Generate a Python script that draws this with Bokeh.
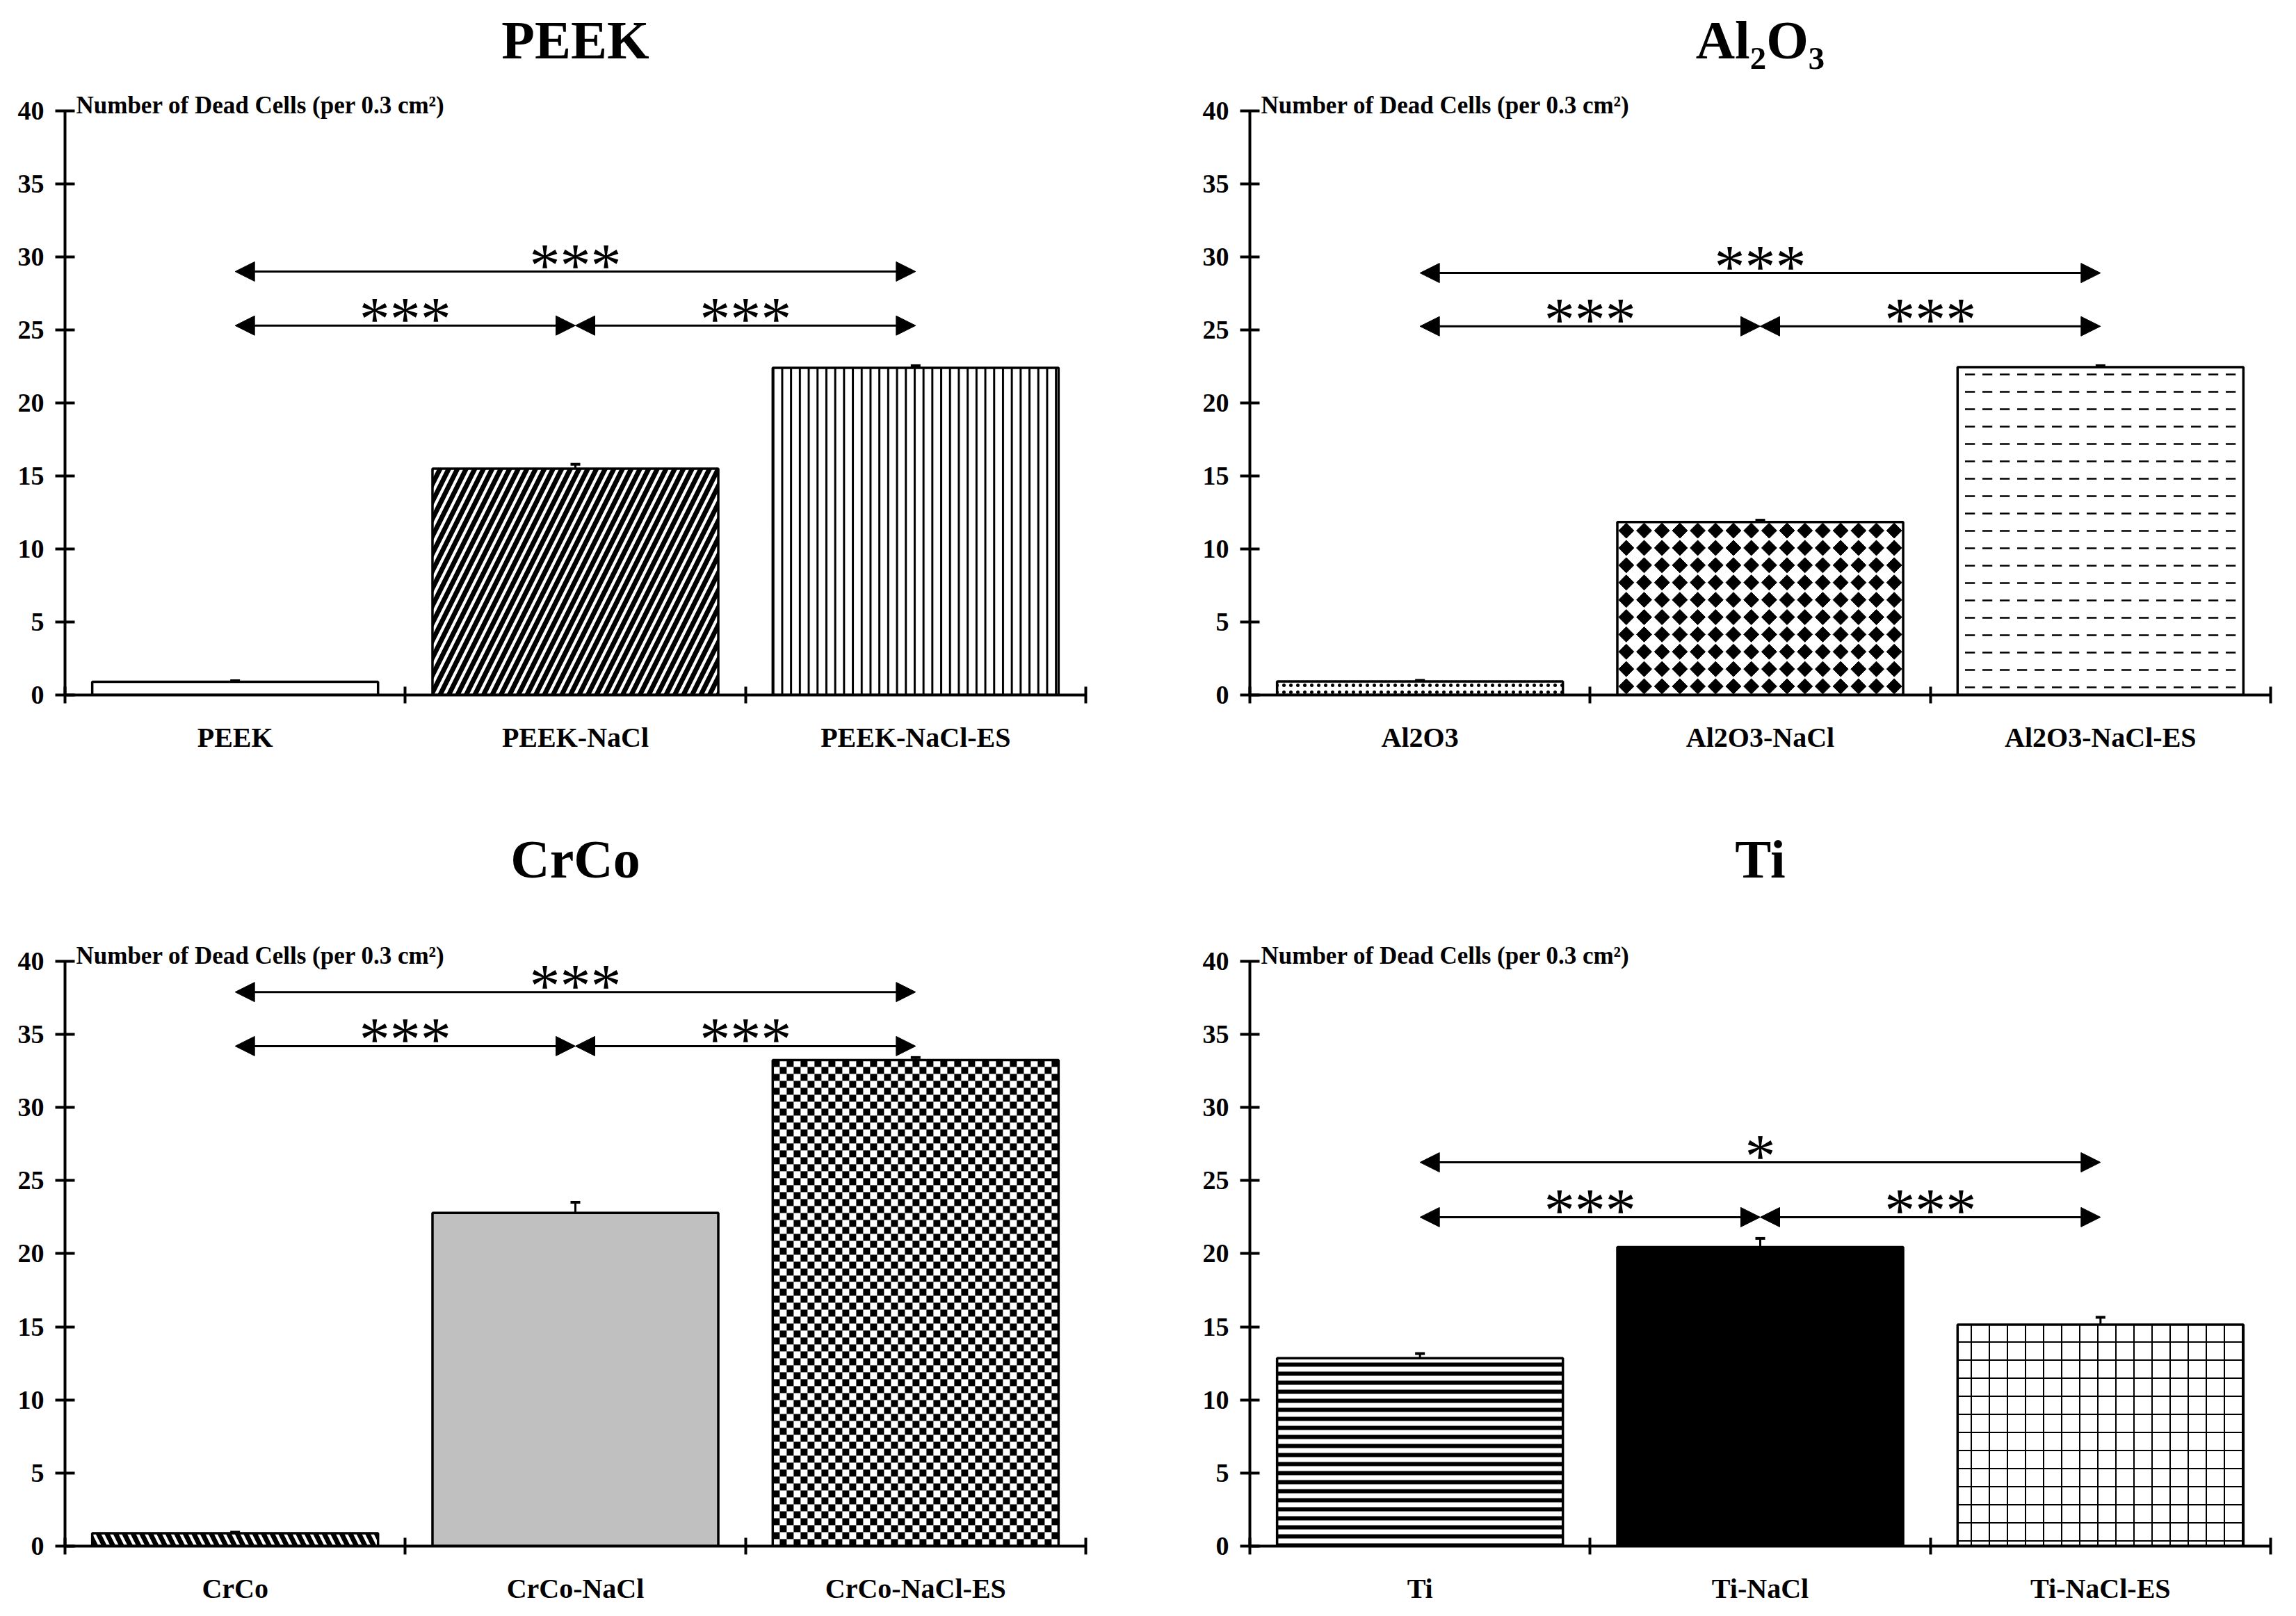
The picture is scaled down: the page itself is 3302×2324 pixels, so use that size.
import numpy as np
from bokeh.plotting import figure
from bokeh.layouts import column, row
from bokeh.models import (ColumnDataSource, Range1d, FixedTicker, Label, Arrow,
                          NormalHead, Whisker, TeeHead)
from bokeh.core.properties import value
from bokeh.embed import file_html
from bokeh.resources import INLINE

# values (number of dead cells per 0.3 cm2, mean and error)
peek_groups = ["PEEK", "PEEK-NaCl", "PEEK-NaCl-ES"]
peek_dead = [0.9, 15.5, 22.4]
peek_err = [0.08, 0.3, 0.15]

al_groups = ["Al2O3", "Al2O3-NaCl", "Al2O3-NaCl-ES"]
al_dead = [0.93, 11.85, 22.45]
al_err = [0.07, 0.12, 0.1]

crco_groups = ["CrCo", "CrCo-NaCl", "CrCo-NaCl-ES"]
crco_dead = [0.88, 22.8, 33.25]
crco_err = [0.07, 0.72, 0.17]

ti_groups = ["Ti", "Ti-NaCl", "Ti-NaCl-ES"]
ti_dead = [12.85, 20.45, 15.15]
ti_err = [0.32, 0.6, 0.5]

# significance arrows: from group, to group, height, stars
peek_sig = [(0, 1, 25.3, "***"), (1, 2, 25.3, "***"), (0, 2, 29.0, "***")]
al_sig = [(0, 1, 25.25, "***"), (1, 2, 25.25, "***"), (0, 2, 28.9, "***")]
crco_sig = [(0, 1, 34.2, "***"), (1, 2, 34.2, "***"), (0, 2, 37.9, "***")]
ti_sig = [(0, 1, 22.5, "***"), (1, 2, 22.5, "***"), (0, 2, 26.25, "*")]

y_ticks = [0, 5, 10, 15, 20, 25, 30, 35, 40]
y_label = "Number of Dead Cells (per 0.3 cm\u00b2)"

SERIF = "Liberation Serif"
BAR_W = 0.84


def panel(title, groups, dead, err, sig, fills, left, right, bottom, y_end, title_y):
    p = figure(width=1651, height=1162, x_range=Range1d(0, 3), y_range=Range1d(0, y_end),
               output_backend="svg", toolbar_location=None,
               min_border_left=left, min_border_right=right,
               min_border_top=10, min_border_bottom=bottom)
    p.xgrid.visible = False
    p.ygrid.visible = False
    p.outline_line_color = None
    p.background_fill_color = "white"
    p.border_fill_color = "white"

    xs = [i + 0.5 for i in range(len(groups))]

    for i, (x, v) in enumerate(zip(xs, dead)):
        st = dict(fills[i])
        kind = st.pop("kind", None)
        if kind == "checker":
            ny = int(round(v * 2.1))
            nx = 41
            cells = np.add.outer(np.arange(ny), np.arange(nx)) % 2
            img = np.kron(cells, np.ones((4, 4)))
            p.image(image=[img], x=x - BAR_W / 2, y=0, dw=BAR_W, dh=v,
                    palette=["#ffffff", "#000000"])
            p.vbar(x=[x], top=[v], width=BAR_W, fill_color=None,
                   line_color="black", line_width=3.5)
        elif kind == "diamond":
            p.vbar(x=[x], top=[v], width=BAR_W, fill_color="white",
                   line_color="black", line_width=3.5)
            cx = x - BAR_W / 2 + (np.arange(16) + 0.5) * BAR_W / 16
            cy = (np.arange(10) + 0.5) * v / 10
            gx, gy = np.meshgrid(cx, cy)
            p.scatter(gx.ravel(), gy.ravel(), marker="square", angle=np.pi / 4, size=15.5,
                      fill_color="black", line_color="black", line_width=1)
        else:
            p.vbar(x=[x], top=[v], width=BAR_W, line_color="black",
                   line_width=3.5, **st)

    src = ColumnDataSource(dict(base=xs, lower=dead,
                                upper=[v + e for v, e in zip(dead, err)]))
    p.add_layout(Whisker(source=src, base="base", lower="lower", upper="upper",
                         line_width=3, lower_head=None,
                         upper_head=TeeHead(size=14, line_width=4)))

    # significance arrows and stars
    for a, b, h, stars in sig:
        p.add_layout(Arrow(x_start=xs[a], y_start=h, x_end=xs[b], y_end=h,
                           line_width=3,
                           start=NormalHead(size=28, fill_color="black", line_color="black"),
                           end=NormalHead(size=28, fill_color="black", line_color="black")))
        p.text(x=[(xs[a] + xs[b]) / 2], y=[h + 0.45], text=[stars],
               text_font=value(SERIF), text_font_size="88px",
               text_align="center", text_baseline="alphabetic", text_color="black")

    xa = p.xaxis[0]
    xa.ticker = FixedTicker(ticks=xs, minor_ticks=[0, 1, 2, 3])
    xa.major_label_overrides = {x: g for x, g in zip(xs, groups)}
    xa.major_tick_in = 0
    xa.major_tick_out = 0
    xa.minor_tick_in = 12
    xa.minor_tick_out = 12
    xa.minor_tick_line_width = 4
    xa.minor_tick_line_color = "black"
    xa.axis_line_width = 4
    xa.major_label_standoff = 26
    xa.major_label_text_font = SERIF
    xa.major_label_text_font_style = "bold"
    xa.major_label_text_font_size = "40px"
    xa.major_label_text_color = "black"

    ya = p.yaxis[0]
    ya.ticker = FixedTicker(ticks=y_ticks)
    ya.bounds = (0, 40)
    ya.major_tick_in = 14
    ya.major_tick_out = 14
    ya.major_tick_line_width = 4
    ya.minor_tick_line_color = None
    ya.axis_line_width = 4
    ya.major_label_standoff = 16
    ya.major_label_text_font = SERIF
    ya.major_label_text_font_style = "bold"
    ya.major_label_text_font_size = "38px"
    ya.major_label_text_color = "black"

    p.add_layout(Label(x=0, y=40.38, x_offset=16, text=y_label, text_font=SERIF,
                       text_font_style="bold", text_font_size="35px",
                       text_align="left", text_baseline="middle", text_color="black"))
    p.add_layout(Label(x=1.5, y=title_y, text=title, text_font=SERIF,
                       text_font_style="bold", text_font_size="78px",
                       text_align="center", text_baseline="alphabetic", text_color="black"))
    return p


peek_fills = [dict(fill_color="white"),
              dict(fill_color="white", hatch_pattern="/", hatch_scale=25, hatch_weight=7, hatch_color="black"),
              dict(fill_color="white", hatch_pattern="|", hatch_scale=12.7, hatch_weight=3, hatch_color="black")]
al_fills = [dict(fill_color="white", hatch_pattern=".", hatch_scale=10, hatch_weight=1, hatch_color="black"),
            dict(kind="diamond"),
            dict(fill_color="white", hatch_pattern='"', hatch_scale=25, hatch_weight=2.5, hatch_color="black")]
crco_fills = [dict(fill_color="white", hatch_pattern="\\", hatch_scale=25, hatch_weight=7, hatch_color="black"),
              dict(fill_color="#c0c0c0"),
              dict(kind="checker")]
ti_fills = [dict(fill_color="white", hatch_pattern="-", hatch_scale=13, hatch_weight=6, hatch_color="black"),
            dict(fill_color="black"),
            dict(fill_color="white", hatch_pattern="+", hatch_scale=26, hatch_weight=2, hatch_color="black")]

p1 = panel("PEEK", peek_groups, peek_dead, peek_err, peek_sig, peek_fills, 93, 90, 163, 47.095, 44.86)
p2 = panel("Al\u2082O\u2083", al_groups, al_dead, al_err, al_sig, al_fills, 146, 37, 163, 47.095, 44.86)
p3 = panel("CrCo", crco_groups, crco_dead, crco_err, crco_sig, crco_fills, 93, 90, 101, 49.988, 47.0)
p4 = panel("Ti", ti_groups, ti_dead, ti_err, ti_sig, ti_fills, 146, 37, 101, 49.988, 47.0)

layout = column(row(p1, p2), row(p3, p4))
open("out.html", "w").write(file_html(layout, INLINE))
